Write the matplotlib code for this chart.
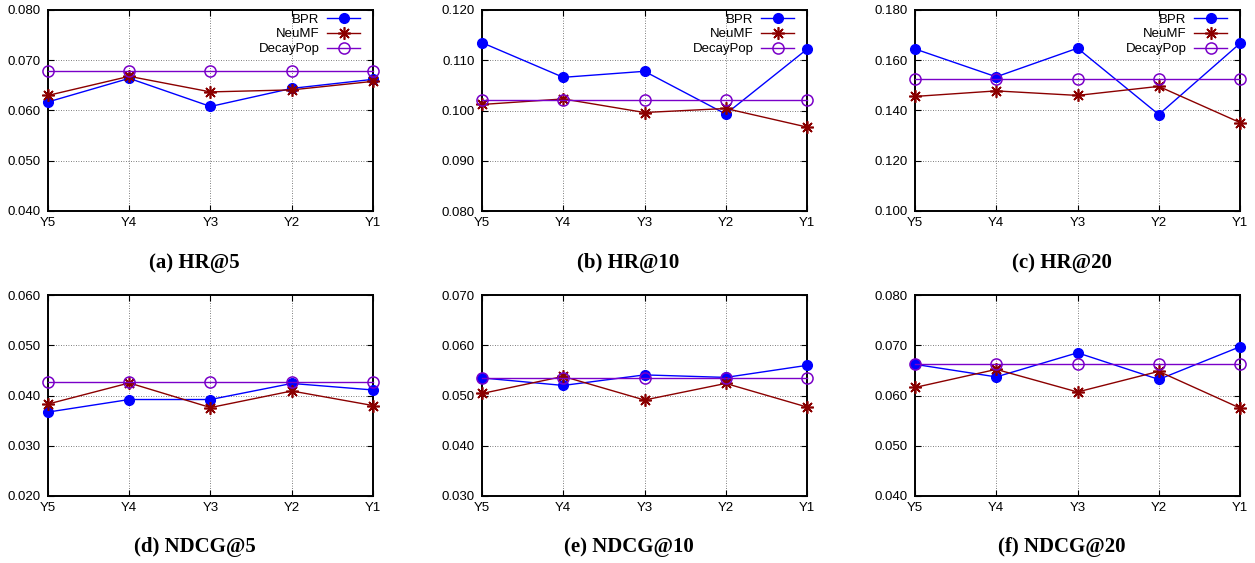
import matplotlib
matplotlib.use('Agg')
import matplotlib.pyplot as plt
import numpy as np

years = ['Y5', 'Y4', 'Y3', 'Y2', 'Y1']

# HR@5
hr5_bpr = [0.0617, 0.0664, 0.0608, 0.0644, 0.0662]
hr5_neumf = [0.0630, 0.0668, 0.0637, 0.0641, 0.0658]
hr5_decay = [0.0678, 0.0678, 0.0678, 0.0678, 0.0678]

# HR@10
hr10_bpr = [0.1135, 0.1066, 0.1078, 0.0993, 0.1122]
hr10_neumf = [0.1012, 0.1023, 0.0996, 0.1004, 0.0967]
hr10_decay = [0.1020, 0.1020, 0.1020, 0.1020, 0.1020]

# HR@20
hr20_bpr = [0.1645, 0.1534, 0.1648, 0.1384, 0.1667]
hr20_neumf = [0.1456, 0.1478, 0.1460, 0.1496, 0.1352]
hr20_decay = [0.1524, 0.1524, 0.1524, 0.1524, 0.1524]

# NDCG@5
ndcg5_bpr = [0.0367, 0.0392, 0.0392, 0.0424, 0.0411]
ndcg5_neumf = [0.0383, 0.0425, 0.0376, 0.0409, 0.0380]
ndcg5_decay = [0.0426, 0.0426, 0.0426, 0.0426, 0.0426]

# NDCG@10
ndcg10_bpr = [0.0535, 0.0520, 0.0541, 0.0536, 0.0560]
ndcg10_neumf = [0.0504, 0.0538, 0.0491, 0.0524, 0.0477]
ndcg10_decay = [0.0535, 0.0535, 0.0535, 0.0535, 0.0535]

# NDCG@20
ndcg20_bpr = [0.0662, 0.0637, 0.0685, 0.0632, 0.0697]
ndcg20_neumf = [0.0616, 0.0652, 0.0607, 0.0648, 0.0575]
ndcg20_decay = [0.0663, 0.0663, 0.0663, 0.0663, 0.0663]

captions = ['(a) HR@5', '(b) HR@10', '(c) HR@20',
            '(d) NDCG@5', '(e) NDCG@10', '(f) NDCG@20']
ylims = [(0.040, 0.080), (0.080, 0.120), (0.100, 0.180),
         (0.020, 0.060), (0.030, 0.070), (0.040, 0.080)]
ysteps = [0.010, 0.010, 0.020, 0.010, 0.010, 0.010]

panels = [
    (hr5_bpr, hr5_neumf, hr5_decay),
    (hr10_bpr, hr10_neumf, hr10_decay),
    (hr20_bpr, hr20_neumf, hr20_decay),
    (ndcg5_bpr, ndcg5_neumf, ndcg5_decay),
    (ndcg10_bpr, ndcg10_neumf, ndcg10_decay),
    (ndcg20_bpr, ndcg20_neumf, ndcg20_decay),
]

W, H = 1255, 563
fig = plt.figure(figsize=(W / 100, H / 100), dpi=100)
plt.rcParams['font.family'] = 'Liberation Sans'

lefts = [48, 482, 915]
tops = [10, 295]
aw, ah = 325, 201

x = np.arange(len(years))
for i, (bpr, neumf, decay) in enumerate(panels):
    r, c = divmod(i, 3)
    ax = fig.add_axes([lefts[c] / W, (H - tops[r] - ah) / H, aw / W, ah / H])
    ax.plot(x, bpr, color='#0000ff', lw=1.0, marker='o', ms=7, label='BPR',
            clip_on=False, zorder=3)
    ax.plot(x, neumf, color='#8b0000', lw=1.0, marker=(8, 2, 0), ms=9,
            mew=1.2, label='NeuMF', clip_on=False, zorder=3)
    ax.plot(x, decay, color='#7a00c8', lw=1.0, marker='o', ms=8, mfc='none',
            mew=1.1, label='DecayPop', clip_on=False, zorder=3)
    ax.set_xlim(0, 4)
    lo, hi = ylims[i]
    ax.set_ylim(lo, hi)
    ax.set_xticks(x)
    ax.set_xticklabels(years)
    ax.set_yticks(np.arange(lo, hi + 1e-9, ysteps[i]))
    ax.yaxis.set_major_formatter(plt.FormatStrFormatter('%.3f'))
    ax.tick_params(direction='in', length=4, width=0.8, labelsize=9.5,
                   top=True, right=True, pad=5)
    ax.tick_params(axis='x', pad=4)
    ax.grid(True, color='#555555', lw=0.6, linestyle=(0, (1, 2)))
    for s in ax.spines.values():
        s.set_linewidth(1.4)
    if r == 0:
        ax.legend(loc='upper right', bbox_to_anchor=(0.965, 0.99), frameon=False,
                  markerfirst=False, fontsize=9.5, handlelength=2.5,
                  handletextpad=0.6, labelspacing=0.2, borderpad=0.1,
                  borderaxespad=0.0)
    fig.text((lefts[c] + aw / 2 - 16) / W, 1 - (263 if r == 0 else 547) / H,
             captions[i], ha='center', va='center', fontsize=15,
             fontweight='bold', family='Liberation Serif')

fig.savefig('out.png', dpi=100)
